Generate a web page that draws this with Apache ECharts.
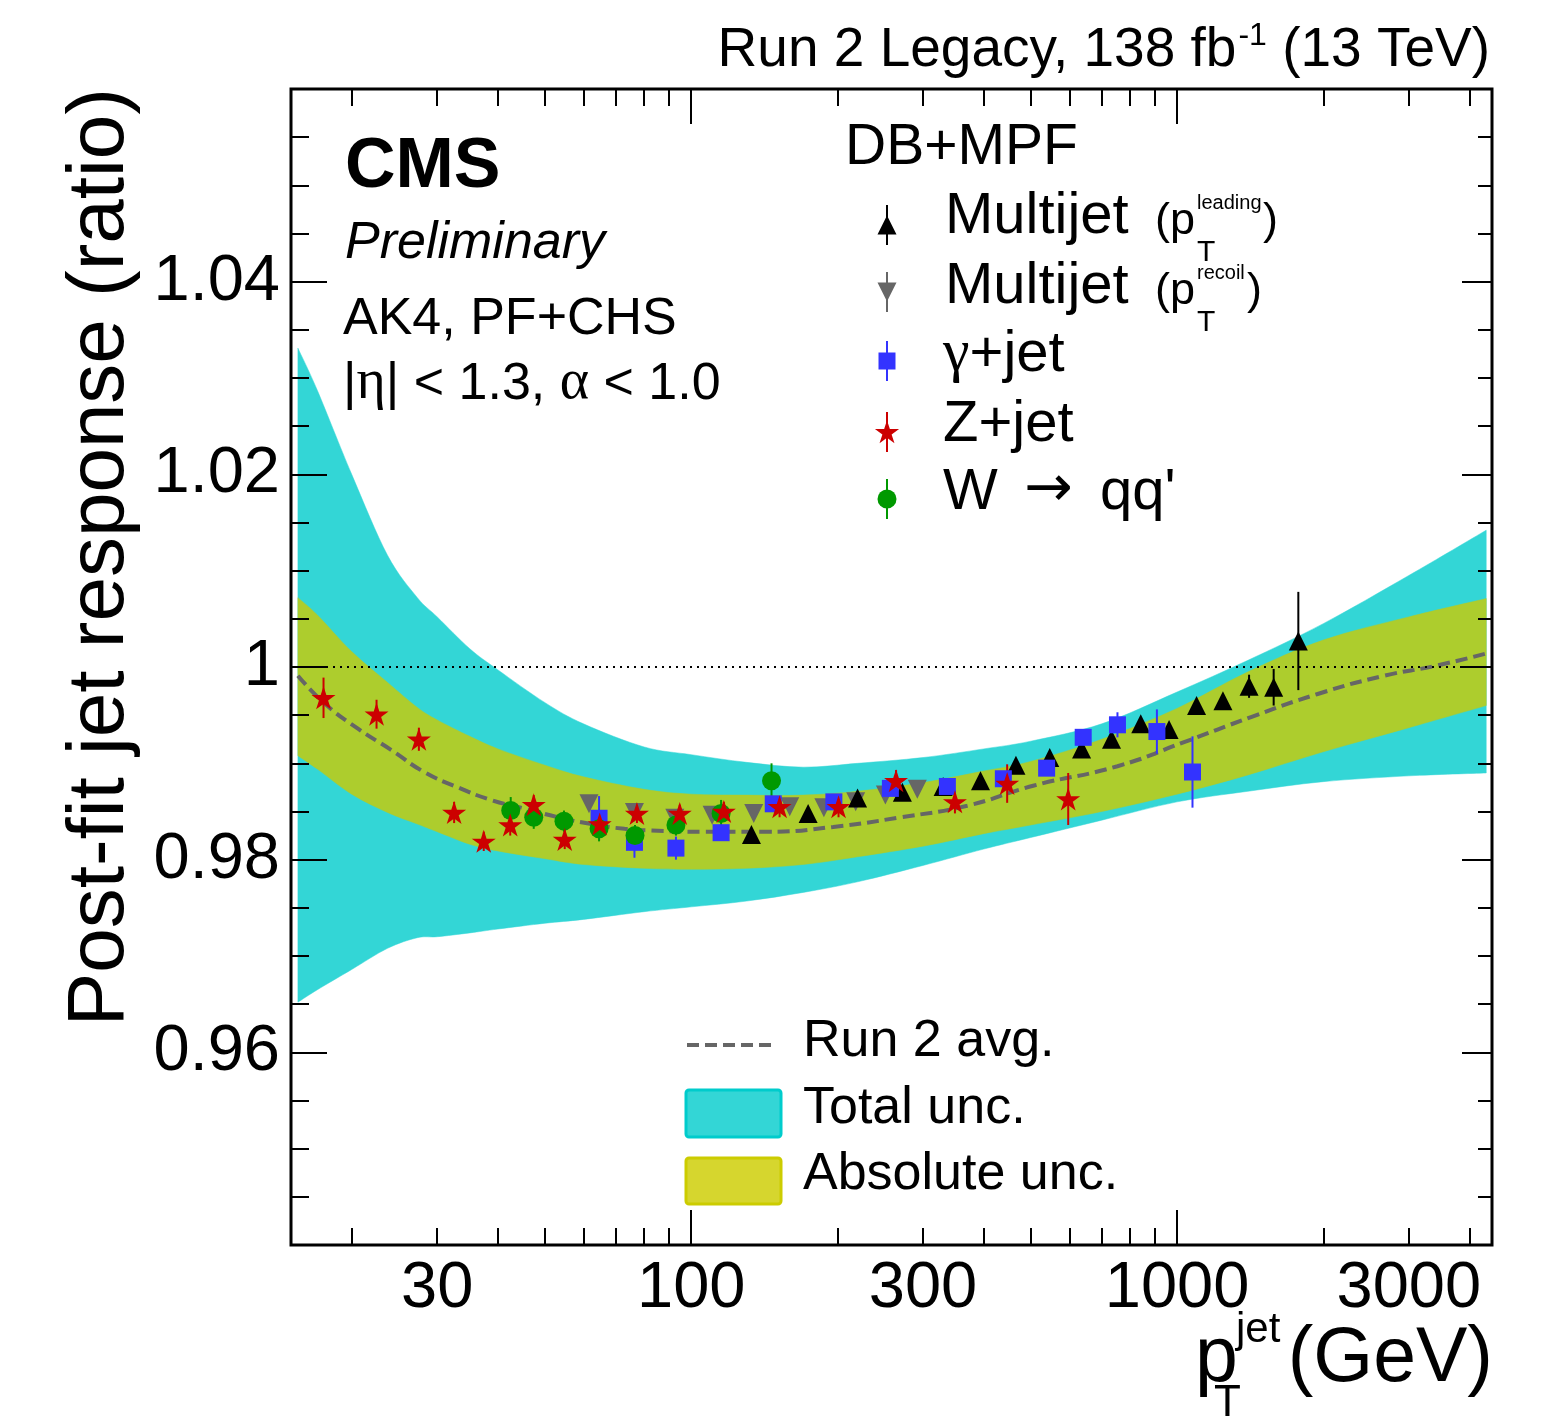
<!DOCTYPE html>
<html>
<head>
<meta charset="utf-8">
<script src="https://cdn.jsdelivr.net/npm/echarts@6/dist/echarts.min.js"></script>
<style>
  html, body { margin: 0; padding: 0; background: #fff; }
  #chart { width: 1566px; height: 1421px; }
</style>
</head>
<body>
<div id="chart"></div>
<script>
// ---- data (pT in GeV, response ratio) ----
const bandPt = [15.5, 17, 20, 23.7, 27.3, 30, 35, 40, 50, 60, 80, 100, 130, 170, 220, 300, 400, 500, 700, 1000, 1400, 2000, 3000, 4330];
const totUp = [1.0331, 1.0287, 1.0200, 1.0116, 1.0072, 1.0052, 1.0019, 0.9997, 0.9963, 0.9941, 0.9917, 0.9909, 0.9901, 0.9896, 0.9900, 0.9906, 0.9915, 0.9923, 0.9941, 0.9974, 1.0007, 1.0045, 1.0095, 1.0142];
const totDn = [0.9652, 0.9665, 0.9686, 0.9708, 0.9719, 0.9720, 0.9724, 0.9728, 0.9734, 0.9738, 0.9746, 0.9751, 0.9757, 0.9766, 0.9777, 0.9794, 0.9811, 0.9823, 0.9841, 0.9860, 0.9871, 0.9881, 0.9887, 0.9890];
const absUp = [1.0072, 1.0054, 1.0016, 0.9984, 0.9958, 0.9945, 0.9928, 0.9915, 0.9898, 0.9886, 0.9873, 0.9868, 0.9867, 0.9867, 0.9871, 0.9880, 0.9892, 0.9902, 0.9925, 0.9957, 0.9995, 1.0028, 1.0052, 1.0071];
const absDn = [0.9908, 0.9894, 0.9868, 0.9849, 0.9837, 0.9829, 0.9816, 0.9809, 0.9801, 0.9795, 0.9791, 0.9790, 0.9791, 0.9795, 0.9803, 0.9814, 0.9827, 0.9836, 0.9850, 0.9868, 0.9888, 0.9912, 0.9937, 0.9960];

const avgPt = [15.5, 17.6, 20.6, 24.1, 28.2, 33.1, 38.7, 45.4, 53.2, 62.3, 72.9, 85.4, 104, 143, 196, 270, 370, 508, 754, 1034, 1420, 1948, 2673, 3390, 4330];
const avgVal = [0.9991, 0.9962, 0.9936, 0.9914, 0.9891, 0.9875, 0.9862, 0.9853, 0.9844, 0.9837, 0.9832, 0.9830, 0.9829, 0.9829, 0.9834, 0.9844, 0.9856, 0.9877, 0.9897, 0.9922, 0.9948, 0.9972, 0.9991, 1.0001, 1.0014];

const mjLeadPt = [133, 174, 220, 272, 330, 394, 466, 547, 636, 733, 842, 963, 1097, 1243, 1407, 1581, 1777];
const mjLeadVal = [0.9826, 0.9848, 0.9864, 0.9870, 0.9876, 0.9882, 0.9898, 0.9906, 0.9915, 0.9925, 0.9941, 0.9935, 0.9960, 0.9965, 0.9980, 0.9979, 1.0027];
const mjLeadErr = [0.0003, 0.0003, 0.0003, 0.0003, 0.0003, 0.0003, 0.0003, 0.0003, 0.0003, 0.0003, 0.0004, 0.0004, 0.0005, 0.0006, 0.0012, 0.0019, 0.0051];

const mjRecPt = [61.6, 76.4, 92.5, 110.4, 134.5, 159.5, 187.5, 218, 251, 292];
const mjRecVal = [0.9858, 0.9849, 0.9843, 0.9846, 0.9848, 0.9855, 0.9854, 0.9860, 0.9867, 0.9873];
const mjRecErr = [0.0004, 0.0004, 0.0004, 0.0003, 0.0003, 0.0003, 0.0003, 0.0003, 0.0003, 0.0003];

const gjPt = [64.6, 76.4, 93, 115.2, 147.5, 196.6, 257, 336.7, 439, 539, 641, 754, 909, 1076];
const gjVal = [0.9843, 0.9818, 0.9812, 0.9828, 0.9858, 0.9860, 0.9874, 0.9876, 0.9884, 0.9895, 0.9927, 0.9940, 0.9933, 0.9891];
const gjErr = [0.0023, 0.0016, 0.0012, 0.0004, 0.0004, 0.0004, 0.0004, 0.0004, 0.0005, 0.0006, 0.0007, 0.0013, 0.0023, 0.0037];

const zjPt = [17.5, 22.5, 27.5, 32.5, 37.4, 42.4, 47.4, 54.9, 64.8, 77.3, 94.7, 116.7, 152, 201, 264, 349, 447, 597];
const zjVal = [0.9968, 0.9951, 0.9925, 0.9849, 0.9819, 0.9836, 0.9857, 0.9821, 0.9837, 0.9848, 0.9848, 0.9850, 0.9855, 0.9855, 0.9882, 0.9860, 0.9879, 0.9863];
const zjErr = [0.0021, 0.0015, 0.0012, 0.0011, 0.0010, 0.0011, 0.0010, 0.0010, 0.0010, 0.0010, 0.0009, 0.0010, 0.0011, 0.0011, 0.0011, 0.0012, 0.0020, 0.0027];

const wqPt = [42.5, 47.4, 54.7, 64.6, 76.6, 93.0, 115.2, 146.3];
const wqVal = [0.9851, 0.9844, 0.9840, 0.9832, 0.9825, 0.9836, 0.9848, 0.9882];
const wqErr = [0.0014, 0.0012, 0.0011, 0.0013, 0.0011, 0.0011, 0.0014, 0.0018];

const xMajorTicks = [100, 1000];
const xMinorTicks = [20, 30, 40, 50, 60, 70, 80, 90, 200, 300, 400, 500, 600, 700, 800, 900, 2000, 3000, 4000];
const xTickLabels = [30, 100, 300, 1000, 3000];
const xMin = 15, xMax = 4450;

// ---- helpers ----
const SANS = 'Liberation Sans';
const SERIF = 'Liberation Serif';
const lx = (v) => Math.log10(v);
const mctx = document.createElement('canvas').getContext('2d');
function tw(s, size, fam, st, w) {
  mctx.font = (st || 'normal') + ' ' + (w || 'normal') + ' ' + size + 'px "' + (fam || SANS) + '"';
  return mctx.measureText(s).width;
}
// text placed by its baseline
function T(x, base, text, size, o) {
  o = o || {};
  return {
    type: 'text', x: x, y: base - 0.35 * size, z: 100,
    style: {
      text: text, fontSize: size, fontFamily: o.f || SANS,
      fontStyle: o.st || 'normal', fontWeight: o.w || 'normal',
      fill: o.c || '#000', align: o.a || 'left', verticalAlign: 'middle'
    }
  };
}
function run(x, base, pieces) {
  const out = [];
  let cx = x;
  pieces.forEach((p) => {
    out.push(T(cx, base + (p.dy || 0), p.t, p.s, p));
    cx += tw(p.t, p.s, p.f, p.st, p.w) + (p.gap || 0);
  });
  return out;
}
const pts = (px, py, pe) => px.map((p, i) => pe ? [lx(p), py[i], pe[i]] : [lx(p), py[i]]);

const CYAN = '#33D6D6', LIME = '#ADCD2D', GREY = '#666666', BLUE = '#3333FF', RED = '#CC0000', GREEN = '#009900';
const STAR = 'path://M0,-50L11.23,-15.45L47.55,-15.45L18.17,5.9L29.39,40.45L0,19.1L-29.39,40.45L-18.17,5.9L-47.55,-15.45L-11.23,-15.45Z';

const errBar = (color) => (params, api) => {
  const x = api.value(0), y = api.value(1), e = api.value(2);
  const a = api.coord([x, y - e]), b = api.coord([x, y + e]);
  return { type: 'line', shape: { x1: a[0], y1: a[1], x2: b[0], y2: b[1] }, style: { stroke: color, lineWidth: 2 } };
};

// smooth curve through pixel points (catmull-rom as cubic beziers)
function curve(p) {
  let s = '';
  for (let i = 0; i < p.length - 1; i++) {
    const p0 = p[i - 1] || p[i], p1 = p[i], p2 = p[i + 1], p3 = p[i + 2] || p[i + 1];
    const c1 = [p1[0] + (p2[0] - p0[0]) / 6, p1[1] + (p2[1] - p0[1]) / 6];
    const c2 = [p2[0] - (p3[0] - p1[0]) / 6, p2[1] - (p3[1] - p1[1]) / 6];
    s += 'C' + c1[0] + ',' + c1[1] + ' ' + c2[0] + ',' + c2[1] + ' ' + p2[0] + ',' + p2[1];
  }
  return s;
}
// band drawn as one closed path: upper edge left->right, lower edge right->left
function bandSeries(name, lo, hi, color, z) {
  const data = bandPt.map((p, i) => [lx(p), lo[i], hi[i]]);
  return {
    name: name, type: 'custom', z: z, data: data, encode: { x: 0, y: [1, 2] },
    renderItem: (params, api) => {
      if (params.dataIndex !== 0) return null;
      const up = data.map((d) => api.coord([d[0], d[2]]));
      const dn = data.map((d) => api.coord([d[0], d[1]])).reverse();
      const path = 'M' + up[0][0] + ',' + up[0][1] + curve(up) + 'L' + dn[0][0] + ',' + dn[0][1] + curve(dn) + 'Z';
      return { type: 'path', shape: { pathData: path }, style: { fill: color, stroke: color, lineWidth: 0.5 } };
    }
  };
}
function pointSeries(name, px, py, pe, color, symbol, size, rot) {
  return [
    { name: name + 'err', type: 'custom', renderItem: errBar(color), data: pts(px, py, pe), encode: { x: 0, y: 1 }, z: 3 },
    { name: name, type: 'scatter', data: pts(px, py), symbol: symbol, symbolSize: size, symbolRotate: rot || 0, itemStyle: { color: color, opacity: 1 }, z: 3 }
  ];
}

function xAx(pos, len, vals, labels) {
  return {
    type: 'value', min: lx(xMin), max: lx(xMax), position: pos, z: 5,
    axisLine: { show: false }, splitLine: { show: false },
    axisTick: { show: true, inside: true, length: len, customValues: vals.map(lx), lineStyle: { color: '#000', width: 2 } },
    axisLabel: labels ? {
      customValues: xTickLabels.map(lx), formatter: (v) => String(Math.round(Math.pow(10, v))),
      fontSize: 65, fontFamily: SANS, color: '#000', margin: 12
    } : { show: false }
  };
}
function yAx(pos, len, mlen, labels) {
  return {
    type: 'value', min: 0.94, max: 1.06, interval: 0.02, position: pos, z: 5,
    axisLine: { show: false }, splitLine: { show: false },
    axisTick: { show: true, inside: true, length: len, lineStyle: { color: '#000', width: 2 } },
    minorTick: { show: true, splitNumber: 4, length: mlen, lineStyle: { color: '#000', width: 2 } },
    axisLabel: labels ? {
      fontSize: 65, fontFamily: SANS, color: '#000', margin: 11, showMinLabel: false, showMaxLabel: false,
      formatter: (v) => { const r = Math.round(v * 100) / 100; return r === 1 ? '1' : String(r); }
    } : { show: false }
  };
}

// ---- texts and legend ----
const g = [];
// top title
const t3 = ' (13 TeV)';
const w3 = tw(t3, 55), wsup = tw('-1', 32);
g.push(T(1490, 70, t3, 55, { a: 'right' }));
g.push(T(1490 - w3, 47, '-1', 32, { a: 'right' }));
g.push(T(1490 - w3 - wsup - 2, 70, 'Run 2 Legacy, 138 fb', 55, { a: 'right' }));
// CMS block
g.push(T(345, 192, 'CMS', 70, { w: 'bold' }));
g.push(T(345, 262, 'Preliminary', 52, { st: 'italic' }));
g.push(T(343, 338, 'AK4, PF+CHS', 52));
g.push(...run(343, 403, [
  { t: '|', s: 52 }, { t: 'η', s: 56, f: SERIF }, { t: '|', s: 52 },
  { t: ' < 1.3, ', s: 52 }, { t: 'α', s: 56, f: SERIF }, { t: ' < 1.0', s: 52 }
]));
// legend (markers)
g.push(T(845, 168, 'DB+MPF', 57));
const LX = 887;
const legY = [225, 292, 361, 432, 499];
const legCol = ['#000', GREY, BLUE, RED, GREEN];
legY.forEach((cy, i) => {
  g.push({ type: 'line', z: 100, shape: { x1: LX, y1: cy - 20, x2: LX, y2: cy + 20 }, style: { stroke: legCol[i], lineWidth: 2 } });
});
g.push({ type: 'polygon', z: 101, shape: { points: [[LX, 225 - 9.5], [LX + 9.5, 225 + 9.5], [LX - 9.5, 225 + 9.5]] }, style: { fill: '#000' } });
g.push({ type: 'polygon', z: 101, shape: { points: [[LX, 292 + 9.5], [LX + 9.5, 292 - 9.5], [LX - 9.5, 292 - 9.5]] }, style: { fill: GREY } });
g.push({ type: 'rect', z: 101, shape: { x: LX - 8.5, y: 361 - 8.5, width: 17, height: 17 }, style: { fill: BLUE } });
(function () {
  const R = 12.7, p = [];
  for (let k = 0; k < 10; k++) {
    const a = (-90 + 36 * k) * Math.PI / 180, r = k % 2 ? R * 0.382 : R;
    p.push([LX + r * Math.cos(a), 433 + r * Math.sin(a)]);
  }
  g.push({ type: 'polygon', z: 101, shape: { points: p }, style: { fill: RED } });
})();
g.push({ type: 'circle', z: 101, shape: { cx: LX, cy: 499, r: 9.5 }, style: { fill: GREEN } });
// legend (labels)
g.push(T(945, 237, 'Multijet', 58));
g.push(T(1155, 237, '(p', 45));
g.push(T(1197, 210, 'leading', 20));
g.push(T(1197, 263, 'T', 30));
g.push(T(1263, 237, ')', 45));
g.push(T(945, 307, 'Multijet', 58));
g.push(T(1155, 307, '(p', 45));
g.push(T(1197, 280, 'recoil', 20));
g.push(T(1197, 333, 'T', 30));
g.push(T(1247, 307, ')', 45));
g.push(...run(943, 375, [{ t: 'γ', s: 60, f: SERIF }, { t: '+jet', s: 58 }]));
g.push(T(943, 445, 'Z+jet', 58));
g.push(T(943, 513, 'W', 58));
g.push(T(1024, 511, '→', 58, { f: 'DejaVu Sans' }));
g.push(T(1100, 513, "qq'", 58));
// lower legend
g.push({ type: 'line', z: 100, shape: { x1: 687, y1: 1045, x2: 773, y2: 1045 }, style: { stroke: GREY, lineWidth: 4, lineDash: [12, 6] } });
g.push(T(803, 1060, 'Run 2 avg.', 52));
g.push({ type: 'rect', z: 100, shape: { x: 686, y: 1090, width: 95, height: 47, r: 3 }, style: { fill: CYAN, stroke: '#00CCCC', lineWidth: 3 } });
g.push(T(803, 1127, 'Total unc.', 52));
g.push({ type: 'rect', z: 100, shape: { x: 686, y: 1158, width: 95, height: 46, r: 3 }, style: { fill: '#D6D62E', stroke: '#CCCC00', lineWidth: 3 } });
g.push(T(803, 1193, 'Absolute unc.', 52));
// axis titles
g.push({
  type: 'text', x: 129 - 0.35 * 80, y: 88, rotation: Math.PI / 2, z: 100,
  style: { text: 'Post-fit jet response (ratio)', fontSize: 80, fontFamily: SANS, fill: '#000', align: 'right', verticalAlign: 'middle' }
});
g.push(T(1195, 1387, 'p', 77));
g.push(T(1214, 1419, 'T', 44));
g.push(T(1236, 1345, 'jet', 42));
g.push(T(1493, 1387, '(GeV)', 77, { a: 'right' }));

// ---- chart ----
const chart = echarts.init(document.getElementById('chart'), null, { renderer: 'canvas' });
chart.setOption({
  animation: false,
  backgroundColor: '#fff',
  textStyle: { fontFamily: SANS },
  grid: { left: 291, top: 89, width: 1201, height: 1156, show: true, borderColor: '#000', borderWidth: 3, backgroundColor: 'transparent' },
  xAxis: [
    xAx('bottom', 35, xMajorTicks, true),
    xAx('bottom', 17, xMinorTicks, false),
    xAx('top', 35, xMajorTicks, false),
    xAx('top', 17, xMinorTicks, false)
  ],
  yAxis: [yAx('left', 36, 18, true), yAx('right', 30, 14, false)],
  series: [
    bandSeries('tot', totDn, totUp, CYAN, 1),
    bandSeries('abs', absDn, absUp, LIME, 1),
    {
      name: 'avg', type: 'line', data: pts(avgPt, avgVal), smooth: true, symbol: 'none', z: 2,
      lineStyle: { color: GREY, width: 4, type: [12, 6] },
      markLine: {
        silent: true, symbol: ['none', 'none'], label: { show: false },
        lineStyle: { color: '#000', width: 2, type: [2, 5] },
        data: [{ yAxis: 1 }]
      }
    },
    ...pointSeries('mjRec', mjRecPt, mjRecVal, mjRecErr, GREY, 'triangle', 19, 180),
    ...pointSeries('mjLead', mjLeadPt, mjLeadVal, mjLeadErr, '#000', 'triangle', 19),
    ...pointSeries('gj', gjPt, gjVal, gjErr, BLUE, 'rect', 17),
    ...pointSeries('wq', wqPt, wqVal, wqErr, GREEN, 'circle', 19),
    ...pointSeries('zj', zjPt, zjVal, zjErr, RED, STAR, [24, 23])
  ],
  graphic: { elements: g }
});
</script>
</body>
</html>
